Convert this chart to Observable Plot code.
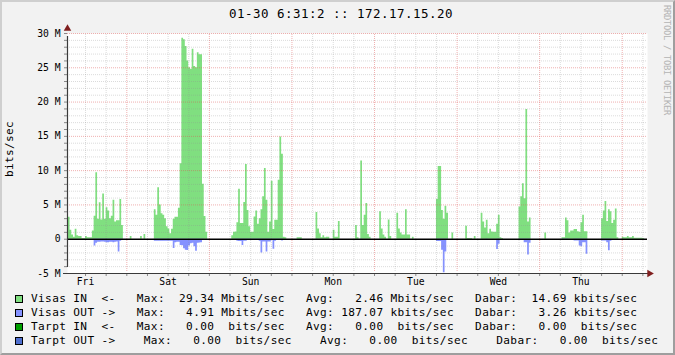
<!DOCTYPE html>
<html><head><meta charset="utf-8">
<script src="https://cdn.jsdelivr.net/npm/d3@7"></script>
<script src="https://cdn.jsdelivr.net/npm/@observablehq/plot@0.6"></script>
<style>
html,body{margin:0;padding:0;background:#f2f2f2;}
#wrap{position:relative;width:675px;height:355px;background:#f2f2f2;overflow:hidden;font-family:"DejaVu Sans Mono",monospace;color:#000;}
#wrap::after{content:"";position:absolute;left:0;top:0;right:0;bottom:0;border-top:2px solid #cfcfcf;border-left:2px solid #cfcfcf;border-right:2px solid #9e9e9e;border-bottom:2px solid #9e9e9e;pointer-events:none;}
#title{position:absolute;left:229px;top:6px;font-size:12.5px;letter-spacing:0.47px;line-height:16px;white-space:pre;}
#ylabel{position:absolute;left:10px;top:149px;font-size:11.1px;letter-spacing:0.3px;line-height:12px;white-space:pre;transform:translate(-50%,-50%) rotate(-90deg);}
#wm{position:absolute;left:661px;top:5px;font-size:8.8px;letter-spacing:-0.3px;writing-mode:vertical-rl;color:#b4b4b4;white-space:pre;line-height:11px;}
#chart{position:absolute;left:0;top:0;}
#legend{position:absolute;left:0;top:292px;}
.row{position:relative;height:14px;}
.box{position:absolute;left:15px;top:3px;width:8px;height:8px;box-sizing:border-box;border:1px solid #000;}
.txt{position:absolute;left:31px;top:0;font-size:11.1px;letter-spacing:0.37px;line-height:14px;white-space:pre;}
</style></head><body>
<div id="wrap">
  <div id="title"></div>
  <div id="ylabel"></div>
  <div id="wm"></div>
  <div id="chart"></div>
  <div id="legend"></div>
</div>
<script>
// ---- text ----
const titleText = "01-30 6:31:2 :: 172.17.15.20";
const yLabelText = "bits/sec";
const watermark = "RRDTOOL / TOBI OETIKER";

// ---- axes ----
const dayLabels = ["Fri", "Sat", "Sun", "Mon", "Tue", "Wed", "Thu"];
const dayNoonHours = [12, 36, 60, 84, 108, 132, 156];      // hours since Fri 00:00
const midnightHours = [24, 48, 72, 96, 120, 144, 168];
const minorHours = [12, 18, 30, 36, 42, 54, 60, 66, 78, 84, 90, 102, 108, 114, 126, 132, 138, 150, 156, 162, 174];
const yTickValues = [-5, 0, 5, 10, 15, 20, 25, 30];
const yTickLabels = ["-5 M", "0", "5 M", "10 M", "15 M", "20 M", "25 M", "30 M"];
const timeDomain = [6.76, 174.76];
const valueDomain = [-5, 30];

// ---- data: Mbits/sec per 30-minute step ----
const dataStartHour = 6.5;   // Fri 06:30
const stepHours = 0.5;
// Fri from 06:30 (35 steps)
const inFri = [3.2,3.2,1.3,0.6,0.3,1.45,0.5,0.4,0.4,0.1,0.1,0.4,0.2,0.2,0.2,1.2,3.35,9.7,2.9,5.3,2.8,6.6,2.9,4.6,4.1,3.0,3.35,5.7,2.5,2.7,2.7,5.8,2.0,0,0];
const outFri = [0,0,0,0,0,0,0,0,0,0,0,0,0,0,0,0,1.0,0.6,0.45,0.45,0.4,0.4,0.45,0.5,0.5,0.45,0.45,0.5,0.45,0.4,1.85,0.3,0.2,0,0];
const inSat = [0,0,0.4,0,0,0,0,0,0.4,0,0.7,0,0,0,0,0,4.3,3.5,7.5,5.0,3.7,3.5,3.0,1.8,1.5,0.8,1.45,2.9,3.2,3.2,4.5,11,29.3,29.1,28.1,26,25,24.8,27.7,25.2,25.0,27.2,26.9,26.9,8,3.3,1.0,0];
const outSat = [0,0,0,0,0,0,0,0,0,0,0,0,0,0,0,0,0.3,0.3,0.3,0.3,0.3,0.3,0.3,0.3,0.3,0.3,0.3,1.35,0.5,0.45,0.45,0.9,0.95,1.4,1.6,1.65,1.0,0.65,0.6,1.1,1.75,0.6,0.55,0.5,0.2,0,0,0];
const inSun = [0,0,0,0,0,0,0,0,0,0,0,0,0,0.5,1.0,1.06,2.4,7.3,2.3,2.3,5.35,10.9,4.2,1.8,1.0,1.0,3.25,4.1,2.2,3.0,4.3,6.2,10.3,5.7,1.0,2.5,8.45,1.4,2.75,2.75,8.6,14.9,12.4,0.3,0.2,0,0,0];
const outSun = [0,0,0,0,0,0,0,0,0,0,0,0,0,0,0,0.1,0.3,0.35,0.35,0.9,0.3,0.3,0.2,0.1,0.1,0.1,0.1,0.1,0.1,0.3,2.0,0.4,0.4,1.85,0.4,0.4,0.2,1.45,0.3,0.1,0.1,0.2,0.25,0,0,0,0,0];
const inMon = [0,0,0,0.2,0.2,0.2,0,0,0,0,0,0,0,0,3.9,1.5,0.8,0.2,0.5,0.2,0.3,0.3,0,0,1.3,0.3,0.3,2.6,0,0,0,0,0,0,0,0,0,2.0,0.2,0,11.4,2.0,3.5,5.2,0.7,0.3,0,0];
const outMon = [0,0,0,0,0,0,0,0,0,0,0,0,0,0,0.1,0,0,0,0,0,0,0,0,0,0,0,0,0,0,0,0,0,0,0,0,0,0,0,0,0,0.1,0,0,0,0,0,0,0];
const inTue = [0,0,0,4.0,1.5,0.6,0.3,0,2.8,0.4,0,0,0,3.8,1.5,0.9,0.6,0.6,4.3,0.6,0.6,0,0.3,0,0,0,0,0,0,0,0,0,0,0,0,0,5.8,10.6,10.6,4.2,2.9,4.8,3.8,0,0,0.9,0,0];
const outTue = [0,0,0,0,0,0,0,0,0,0,0,0,0,0,0,0,0,0,0,0,0,0,0,0,0,0,0,0,0,0,0,0,0,0,0,0,0.35,0.35,0.35,1.6,4.9,1.85,0.2,0,0,0,0,0];
const inWed = [0,0,0,0,0,1.9,0.1,0.1,0.1,0,0.4,0,0,0,3.8,2.5,1.65,2.75,0.8,1.45,1.05,1.0,1.0,2.2,3.5,0.2,0.1,0,0,0,0,0,0,0,0,0,4.7,6.2,8.1,5.9,18.9,2.5,3.1,0,0,0,0,0];
const outWed = [0,0,0,0,0,0,0,0,0,0,0,0,0,0,0,0,0,0.2,0,0,0,0,0,1.5,0.75,0,0,0,0,0,0,0,0,0,0,0,0.2,0.2,0.2,0.5,0.5,2.3,0.6,0,0,0,0,0];
const inThu = [0,0,0,0.9,0,0,0,0,0,0,0,0,0,0.2,0.2,3.1,2.7,0.9,1.2,1.2,1.4,1.4,1.1,1.0,2.4,3.5,1.1,1.1,0,0,0,0,0,0,0,0,3.0,4.1,5.5,2.6,4.3,4.0,2.3,2.75,4.4,0.2,0,0];
const outThu = [0,0,0,0,0,0,0,0,0,0,0,0,0,0.1,0.1,0.1,0.1,0,0,0,0.25,0.25,0.25,1.0,1.1,0.5,0.5,2.2,0,0,0,0,0,0,0,0,0.25,0.25,0.25,0.5,1.7,0.3,0,0,0,0,0,0];
// Fri until 06:30 (13 steps)
const inFri2 = [0.3,0.2,0.2,0.4,0.2,0.2,0.4,0.15,0.15,0.15,0.15,0.15,0.1];
const outFri2 = [0,0,0,0,0,0,0,0,0,0,0,0,0];

// ---- legend ----
const legendNames = ["Visas IN  <-", "Visas OUT ->", "Tarpt IN  <-", "Tarpt OUT ->"];
const legendColors = ["#80df80", "#8592ff", "#00a000", "#4f6fcf"];
const legendMax = ["29.34", "4.91", "0.00", "0.00"];
const legendMaxUnit = ["Mbits/sec", "Mbits/sec", " bits/sec", " bits/sec"];
const legendAvg = ["2.46", "187.07", "0.00", "0.00"];
const legendAvgUnit = ["Mbits/sec", "kbits/sec", " bits/sec", " bits/sec"];
const legendCur = ["14.69", "3.26", "0.00", "0.00"];
const legendCurUnit = ["kbits/sec", "kbits/sec", " bits/sec", " bits/sec"];
const legendCols = [[15, 39, 63], [15, 39, 63], [15, 39, 63], [16, 41, 66]];

// ---- build series table ----
const inAll = [...inFri, ...inSat, ...inSun, ...inMon, ...inTue, ...inWed, ...inThu, ...inFri2];
const outAll = [...outFri, ...outSat, ...outSun, ...outMon, ...outTue, ...outWed, ...outThu, ...outFri2];
function toSteps(arr, sign) {
  const rows = arr.map((v, i) => ({h: dataStartHour + stepHours * i, v: sign * v}));
  rows.push({h: dataStartHour + stepHours * arr.length, v: sign * arr[arr.length - 1]});
  return rows;
}
const inRows = toSteps(inAll, 1);
const outRows = toSteps(outAll, -1);

const minorY = d3.range(-4, 30).filter(v => v % 5 !== 0);
const majorY = [5, 10, 15, 20, 25, 30];
const allYTicks = d3.range(-5, 31);
const allXTicks = [...minorHours, ...midnightHours].sort((a, b) => a - b);

const chart = Plot.plot({
  width: 675, height: 290,
  marginLeft: 67, marginRight: 28, marginTop: 33, marginBottom: 17,
  x: {domain: timeDomain, range: [67, 645], label: null},
  y: {domain: valueDomain, label: null},
  style: {background: "transparent", fontFamily: "DejaVu Sans Mono", fontSize: "9.7px", color: "#000", overflow: "visible"},
  marks: [
    Plot.frame({fill: "white", stroke: "none"}),
    Plot.areaY(inRows, {x: "h", y: "v", curve: "step-after", fill: legendColors[0], clip: true}),
    Plot.areaY(outRows, {x: "h", y: "v", curve: "step-after", fill: legendColors[1], clip: true}),
    Plot.ruleX(minorHours, {y1: valueDomain[0], y2: valueDomain[1], insetTop: -2, stroke: "#8f8f8f", strokeOpacity: 0.32, strokeDasharray: "1,1"}),
    Plot.ruleY(minorY, {x1: timeDomain[0], x2: timeDomain[1], insetRight: -2, stroke: "#8f8f8f", strokeOpacity: 0.32, strokeDasharray: "1,1"}),
    Plot.ruleX(midnightHours, {y1: valueDomain[0], y2: valueDomain[1], insetTop: -2, stroke: "#de4f4f", strokeOpacity: 0.45, strokeDasharray: "1,1"}),
    Plot.ruleY(majorY, {x1: timeDomain[0], x2: timeDomain[1], insetRight: -2, stroke: "#de4f4f", strokeOpacity: 0.45, strokeDasharray: "1,1"}),
    Plot.ruleY([0], {x1: timeDomain[0], x2: timeDomain[1], insetRight: -2, stroke: "#000", strokeWidth: 1.5}),
    Plot.axisY({ticks: allYTicks, tickSize: 3, tickFormat: () => "", stroke: "#888", label: null}),
    Plot.axisX({ticks: allXTicks, tickSize: 3, tickFormat: () => "", stroke: "#888", label: null}),
    Plot.axisY({ticks: yTickValues, tickSize: 0, tickPadding: 7, tickFormat: d => yTickLabels[yTickValues.indexOf(d)], label: null}),
    Plot.axisX({ticks: dayNoonHours, tickSize: 0, tickPadding: 5, tickFormat: d => dayLabels[dayNoonHours.indexOf(d)], label: null}),
    Plot.ruleX([timeDomain[0]], {y1: valueDomain[0], y2: valueDomain[1], insetTop: -6, insetBottom: -3, stroke: "#3a3a3a", strokeWidth: 1.2}),
    Plot.ruleY([valueDomain[0]], {x1: timeDomain[0], x2: timeDomain[1], insetLeft: -4, insetRight: -4, stroke: "#3a3a3a", strokeWidth: 1.2}),
    Plot.dot([0], {frameAnchor: "top-left", dy: -5, symbol: "triangle", r: 2.8, fill: "#801f1f", stroke: "none"}),
    Plot.dot([0], {frameAnchor: "bottom-right", dx: 2, symbol: "triangle", rotate: 90, r: 2.8, fill: "#801f1f", stroke: "none"})
  ]
});
document.getElementById("chart").appendChild(chart);

document.getElementById("title").textContent = titleText;
document.getElementById("ylabel").textContent = yLabelText;
document.getElementById("wm").textContent = watermark;

function place(line, col, str) {
  while (line.length < col) line += " ";
  return line + str;
}
const legend = document.getElementById("legend");
legendNames.forEach((name, i) => {
  const [cMax, cAvg, cCur] = legendCols[i];
  let line = name;
  line = place(line, cMax, "Max:");
  line = place(line, cMax + 11 - legendMax[i].length, legendMax[i]);
  line = place(line, cMax + 12, legendMaxUnit[i]);
  line = place(line, cAvg, "Avg:");
  line = place(line, cAvg + 11 - legendAvg[i].length, legendAvg[i]);
  line = place(line, cAvg + 12, legendAvgUnit[i]);
  line = place(line, cCur, "Dabar:");
  line = place(line, cCur + 13 - legendCur[i].length, legendCur[i]);
  line = place(line, cCur + 14, legendCurUnit[i]);
  const row = document.createElement("div");
  row.className = "row";
  const box = document.createElement("div");
  box.className = "box";
  box.style.background = legendColors[i];
  const txt = document.createElement("div");
  txt.className = "txt";
  txt.textContent = line;
  row.appendChild(box);
  row.appendChild(txt);
  legend.appendChild(row);
});
</script>
</body></html>
